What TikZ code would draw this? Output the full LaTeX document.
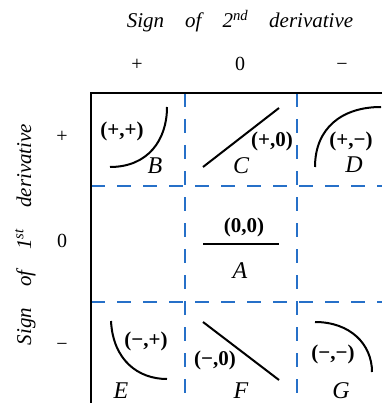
\documentclass[tikz,border=0pt]{standalone}
\usepackage{fontspec}
\setmainfont{Liberation Serif}
\definecolor{gridblue}{RGB}{38,112,200}
\begin{document}
\begin{tikzpicture}[x=1pt,y=-1pt,
  grid/.style={draw=gridblue, line width=2pt, dash pattern=on 14pt off 12pt},
  frame/.style={line width=2.2pt, black},
  curve/.style={line width=2pt, black},
  lab/.style={font=\fontsize{21}{21}\selectfont\bfseries, inner sep=0pt},
  cell/.style={font=\fontsize{24}{24}\selectfont\itshape, inner sep=0pt},
  head/.style={font=\fontsize{20}{20}\selectfont, inner sep=0pt, anchor=base},
  title/.style={font=\fontsize{21}{21}\selectfont\itshape, inner sep=0pt, anchor=base},
]
\useasboundingbox (0,0) rectangle (382,403);
% grid
\draw[grid] (185,93) -- (185,403);
\draw[grid] (297,93) -- (297,403);
\draw[grid] (91,186) -- (382,186);
\draw[grid] (91,302) -- (382,302);
% frame
\draw[frame] (382,93) -- (91,93) -- (91,403);
% titles
\node[title] (top) at (240,28) {Sign\quad of\quad 2\textsuperscript{nd}\quad derivative};
\node[title, rotate=90] (left) at (31,234.5) {Sign\quad of\quad 1\textsuperscript{st}\quad derivative};
% column heads
\node[head] (hp) at (137,71) {+};
\node[head] (h0) at (240,71) {0};
\node[head] (hm) at (342,71) {−};
% row heads
\node[head] (rp) at (62,143) {+};
\node[head] (r0) at (62,247) {0};
\node[head] (rm) at (62,350) {−};
% curves
\draw[curve] (110,167) .. controls (148,167) and (167,140) .. (167,107);
\draw[curve] (203,167) -- (279,108);
\draw[curve] (315,167) .. controls (315,128) and (342,107) .. (381,107);
\draw[curve] (203,244) -- (279,244);
\draw[curve] (111,321) .. controls (113,360) and (138,379) .. (167,379);
\draw[curve] (203,322) -- (279,380);
\draw[curve] (315,322) .. controls (350,322) and (372,344) .. (372,372);
% labels
\node[lab] (lB) at (122,131) {(+,+)};
\node[lab] (lC) at (272,141) {(+,0)};
\node[lab] (lD) at (351,141) {(+,−)};
\node[lab] (lA) at (244,227) {(0,0)};
\node[lab] (lE) at (146,341) {(−,+)};
\node[lab] (lF) at (215,360) {(−,0)};
\node[lab] (lG) at (333,354) {(−,−)};
% letters
\node[cell] (B) at (155,166) {B};
\node[cell] (C) at (241,166) {C};
\node[cell] (D) at (354,165) {D};
\node[cell] (A) at (240,271) {A};
\node[cell] (E) at (121,391) {E};
\node[cell] (F) at (241,391) {F};
\node[cell] (G) at (341,391) {G};
\end{tikzpicture}
\end{document}
